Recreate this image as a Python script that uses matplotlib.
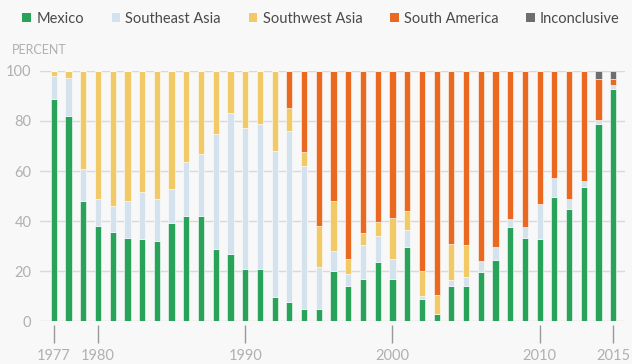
import numpy as np
import matplotlib
matplotlib.use("Agg")
import matplotlib.pyplot as plt
from matplotlib.patches import Patch

plt.rcParams["font.family"] = ["Lato", "DejaVu Sans"]

# ------------------------------------------------------------ data (percent)
years = list(range(1977, 2016))
mexico = [88.7, 81.9, 47.9, 38.1, 35.5, 33.3, 32.7, 31.9, 39.1, 41.9,
          41.9, 28.9, 26.7, 20.7, 20.7, 9.7, 7.6, 4.7, 4.7, 19.9,
          14.1, 16.8, 23.7, 16.7, 29.6, 8.7, 2.7, 14.0, 13.9, 19.7,
          24.5, 37.6, 33.3, 32.7, 49.6, 44.9, 53.6, 78.7, 92.7]
se_asia = [9.2, 15.2, 13.0, 10.8, 10.4, 14.6, 19.0, 17.0, 13.6, 21.8,
           24.8, 45.8, 56.5, 56.4, 58.2, 58.2, 68.3, 57.3, 16.9, 8.0,
           4.6, 13.7, 10.2, 8.0, 6.9, 1.3, 0.0, 2.5, 3.8, 4.2,
           5.2, 3.3, 4.3, 14.0, 7.5, 4.0, 2.4, 1.6, 1.6]
sw_asia = [2.1, 2.9, 39.1, 51.1, 54.1, 52.1, 48.3, 51.1, 47.3, 36.3,
           33.3, 25.3, 16.8, 22.9, 21.1, 32.1, 9.3, 5.6, 16.3, 20.0,
           6.0, 4.6, 5.8, 16.4, 7.5, 9.9, 7.8, 14.2, 12.8, 0.0,
           0.0, 0.0, 0.0, 0.0, 0.0, 0.0, 0.0, 0.0, 0.0]
s_america = [0.0, 0.0, 0.0, 0.0, 0.0, 0.0, 0.0, 0.0, 0.0, 0.0,
             0.0, 0.0, 0.0, 0.0, 0.0, 0.0, 14.8, 32.4, 62.1, 52.1,
             75.3, 64.9, 60.3, 58.9, 56.0, 80.1, 89.5, 69.3, 69.5, 76.1,
             70.3, 59.1, 62.4, 53.3, 42.9, 51.1, 44.0, 16.5, 2.5]
inconclusive = [0.0] * 37 + [3.2, 3.2]

series = [("Mexico", mexico, "#2aa35a"),
          ("Southeast Asia", se_asia, "#d4e2ee"),
          ("Southwest Asia", sw_asia, "#f1ca67"),
          ("South America", s_america, "#e8691f"),
          ("Inconclusive", inconclusive, "#6e6e6e")]

xticks = [1977, 1980, 1990, 2000, 2010, 2015]
bg = "#f8f8f8"
grey = "#b0b0b0"

# ------------------------------------------------------------ figure
fig = plt.figure(figsize=(6.32, 3.64), dpi=100, facecolor=bg)
ax = fig.add_axes([0.063, 0.118, 0.926, 0.687], facecolor=bg)

bottom = np.zeros(len(years))
for name, vals, col in series:
    vals = np.array(vals)
    ax.bar(years, vals, bottom=bottom, width=0.42, color=col,
           edgecolor="white", linewidth=0.4, zorder=3)
    bottom += vals

ax.set_xlim(1976.05, 2015.8)
ax.set_ylim(0, 100)
ax.set_yticks(range(0, 101, 20))
ax.yaxis.grid(True, color="#d9d9d9", linewidth=1.0, zorder=0)
ax.tick_params(axis="y", length=0, pad=6, labelsize=10.5, labelcolor=grey)

ax.set_xticks(xticks)
ax.tick_params(axis="x", direction="out", length=13, width=1, color="#999999",
               pad=4, labelsize=10.5, labelcolor=grey)
for s in ax.spines.values():
    s.set_visible(False)
ax.spines["bottom"].set_position(("outward", 3))

fig.text(0.018, 0.862, "PERCENT", fontsize=9, color=grey, ha="left", va="center")

handles = [Patch(facecolor=c, edgecolor="none") for _, _, c in series]
fig.legend(handles, [n for n, _, _ in series], loc="center", ncol=5,
           bbox_to_anchor=(0.508, 0.948), frameon=False, fontsize=10.5,
           handlelength=0.6, handleheight=0.6, handletextpad=0.35,
           columnspacing=1.9, labelcolor="#4a4a4a")

fig.savefig("out.png", dpi=100, facecolor=bg)
